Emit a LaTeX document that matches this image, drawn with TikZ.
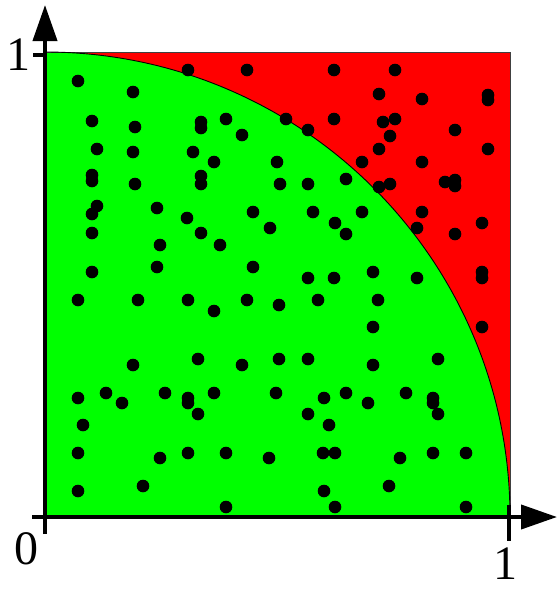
\documentclass[tikz,border=0pt]{standalone}
\usepackage{fontspec}
\setmainfont{Liberation Serif}
\usetikzlibrary{arrows.meta}
\definecolor{pgreen}{RGB}{0,255,0}
\definecolor{pred}{RGB}{255,0,0}
\begin{document}
\begin{tikzpicture}[x=1pt,y=-1pt,
  axis/.style={line width=4pt},
  axisarrow/.style={axis,-{Triangle[length=36pt,width=24pt]}},
  dot/.style={fill=black},
  lbl/.style={inner sep=0pt,font=\fontsize{48}{58}\selectfont}]
\useasboundingbox (0,0) rectangle (557,590);
% square and quarter circle
\coordinate (O) at (45,517);
\coordinate (TL) at (45,52);
\coordinate (BR) at (510,517);
\fill[pred] (O) rectangle (510,52);
\fill[pgreen] (O) -- (TL) arc[start angle=-90,end angle=0,radius=465] -- cycle;
\draw[black!75,line width=1pt] (O) rectangle (510,52);
\draw[black,line width=0.9pt] (TL) arc[start angle=-90,end angle=0,radius=465];
% dots
\foreach \p in {(78,81),(133,92),(188,70),(247,70),(92,121),(135,127),(201,122),(201,128),
 (226,119),(242,135),(97,149),(133,152),(193,152),(214,162),(277,162),(92,175),(92,181),
 (135,184),(201,176),(201,184),(280,184),(97,206),(92,214),(157,208),(187,218),(253,212),
 (270,228),(92,233),(201,233),(160,245),(220,245),(92,272),(157,267),(253,267),
 (334,70),(395,70),(379,94),(422,99),(488,95),(488,100),(286,119),(308,130),(334,119),
 (383,122),(395,119),(390,136),(455,130),(379,149),(488,149),(362,162),(422,162),
 (308,184),(346,179),(379,187),(390,184),(445,182),(455,180),(455,186),(313,212),
 (362,212),(335,223),(346,234),(422,212),(417,228),(455,234),(482,223),(308,278),
 (334,278),(373,272),(417,278),(482,272),(482,278),
 (78,300),(138,300),(188,300),(214,311),(247,300),(279,305),(133,365),(198,359),
 (242,365),(279,359),(78,398),(106,393),(122,403),(165,393),(188,398),(188,403),
 (198,414),(214,393),(276,393),(83,425),(78,453),(160,458),(188,453),(226,453),
 (269,458),(78,491),(143,486),(226,507),
 (318,300),(378,300),(373,327),(482,327),(308,359),(373,365),(438,359),(324,398),
 (346,393),(368,403),(406,393),(433,398),(433,403),(438,414),(308,414),(329,425),
 (323,453),(335,453),(400,458),(433,453),(466,453),(324,491),(389,486),(335,507),
 (466,507)}
  \fill[dot] \p circle[radius=6.3pt];
% axes
\coordinate (xs) at (32,517);
\coordinate (xe) at (557,517);
\coordinate (ys) at (45,534);
\coordinate (ye) at (45,5);
\draw[axisarrow] (xs) -- (xe);
\draw[axisarrow] (ys) -- (ye);
\coordinate (t1a) at (33,55);
\coordinate (t1b) at (45,55);
\draw[axis] (t1a) -- (t1b);
\coordinate (t2a) at (509,505);
\coordinate (t2b) at (509,541);
\draw[axis] (t2a) -- (t2b);
% labels
\node[lbl] (ylab) at (18,55) {1};
\node[lbl] (olab) at (27,549) {0};
\node[lbl] (xlab) at (505,564) {1};
\end{tikzpicture}
\end{document}
